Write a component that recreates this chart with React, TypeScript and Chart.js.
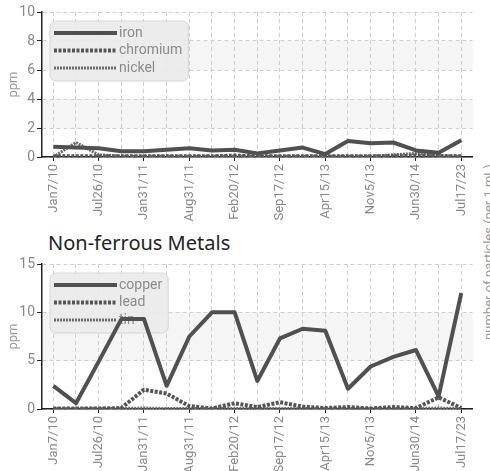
import React, { useEffect, useRef } from 'react';
import { Chart, registerables } from 'chart.js';

Chart.register(...registerables);

// ---- data ----
const sampleDates = ['Jan7/10', '', 'Jul26/10', '', 'Jan31/11', '', 'Aug31/11', '', 'Feb20/12', '', 'Sep17/12', '', 'Apr15/13', '', 'Nov5/13', '', 'Jun30/14', '', 'Jul17/23'];

const iron = [0.7, 0.65, 0.6, 0.4, 0.4, 0.5, 0.6, 0.45, 0.5, 0.25, 0.45, 0.65, 0.2, 1.1, 0.95, 1.0, 0.45, 0.3, 1.15];
const chromium = [0.05, 0.05, 0.05, 0.05, 0.05, 0.05, 0.05, 0.05, 0.1, 0.05, 0.05, 0.05, 0.05, 0.05, 0.05, 0.05, 0.1, 0.05, 0.05];
const nickel = [0.0, 1.0, 0.15, 0.05, 0.05, 0.05, 0.05, 0.05, 0.05, 0.05, 0.05, 0.05, 0.05, 0.05, 0.05, 0.15, 0.25, 0.1, 0.05];

const copper = [2.4, 0.6, 4.9, 9.3, 9.3, 2.4, 7.5, 10, 10, 2.9, 7.3, 8.3, 8.1, 2.1, 4.4, 5.4, 6.1, 1.3, 12];
const lead = [0.05, 0.05, 0.05, 0.1, 2.0, 1.6, 0.3, 0.05, 0.6, 0.2, 0.7, 0.25, 0.1, 0.2, 0.05, 0.2, 0.1, 1.2, 0.1];
const tin = [0.05, 0.05, 0.05, 0.05, 0.1, 0.05, 0.05, 0.05, 0.05, 0.05, 0.05, 0.05, 0.05, 0.05, 0.05, 0.05, 0.05, 0.1, 0.05];

const ferrousTicks = { max: 10, step: 2 };
const nonFerrousTicks = { max: 15, step: 5 };

const NARROW = 'Roboto, "Liberation Sans", sans-serif';

const bandsPlugin = {
  id: 'bands',
  beforeDraw(chart: any) {
    const { ctx, chartArea, scales } = chart;
    const y = scales.y;
    const ticks = y.ticks;
    ctx.save();
    ctx.fillStyle = '#f5f5f5';
    for (let i = 1; i < ticks.length - 1; i += 2) {
      const a = y.getPixelForValue(ticks[i].value);
      const b = y.getPixelForValue(ticks[i + 1].value);
      ctx.fillRect(chartArea.left, b, chartArea.right - chartArea.left, a - b);
    }
    ctx.restore();
  },
};

const legendPlugin = {
  id: 'insetLegend',
  beforeDatasetsDraw(chart: any) {
    const { ctx, chartArea } = chart;
    const ds = chart.data.datasets;
    const x0 = chartArea.left + 8;
    const y0 = chartArea.top + 9;
    ctx.save();
    ctx.font = '14px ' + NARROW;
    const textW = Math.max(...ds.map((d: any) => ctx.measureText(d.label).width));
    const sample = 63;
    const w = 4 + sample + 2 + textW + 6;
    const h = 60;
    const r = 6;
    ctx.beginPath();
    ctx.moveTo(x0 + r, y0);
    ctx.arcTo(x0 + w, y0, x0 + w, y0 + h, r);
    ctx.arcTo(x0 + w, y0 + h, x0, y0 + h, r);
    ctx.arcTo(x0, y0 + h, x0, y0, r);
    ctx.arcTo(x0, y0, x0 + w, y0, r);
    ctx.closePath();
    ctx.fillStyle = 'rgba(234,234,234,0.92)';
    ctx.fill();
    ctx.strokeStyle = '#d6d6d6';
    ctx.lineWidth = 1;
    ctx.stroke();
    ds.forEach((d: any, i: number) => {
      const yy = y0 + 12 + i * 17.5;
      ctx.beginPath();
      ctx.setLineDash(d.borderDash || []);
      ctx.lineWidth = d.borderWidth;
      ctx.strokeStyle = d.borderColor;
      ctx.moveTo(x0 + 4, yy);
      ctx.lineTo(x0 + 4 + sample, yy);
      ctx.stroke();
      ctx.setLineDash([]);
      ctx.fillStyle = '#8a8a8a';
      ctx.textBaseline = 'middle';
      ctx.textAlign = 'left';
      ctx.fillText(d.label, x0 + 4 + sample + 2, yy);
    });
    ctx.restore();
  },
};

type Series = { label: string; data: number[]; kind: 'solid' | 'dotted' | 'thin' };

function styleFor(kind: string) {
  if (kind === 'solid') return { borderColor: '#505050', borderWidth: 4, borderDash: [] as number[] };
  if (kind === 'dotted') return { borderColor: '#555555', borderWidth: 4, borderDash: [3, 1.5] };
  return { borderColor: '#6a6a6a', borderWidth: 3, borderDash: [2, 1] };
}

function MetalChart({ series, yMax, yStep, width, height, padTop, xAxisHeight }: {
  series: Series[]; yMax: number; yStep: number; width: number; height: number; padTop: number; xAxisHeight: number;
}) {
  const ref = useRef<HTMLCanvasElement>(null);
  useEffect(() => {
    if (!ref.current) return;
    const chart = new Chart(ref.current, {
      type: 'line',
      data: {
        labels: sampleDates,
        datasets: series.map((s) => ({
          label: s.label,
          data: s.data,
          ...styleFor(s.kind),
          pointRadius: 0,
          fill: false,
          tension: 0,
          borderJoinStyle: 'round' as const,
        })),
      },
      options: {
        animation: false,
        responsive: false,
        layout: { padding: { top: padTop, right: 4, left: 0, bottom: 0 } },
        plugins: { legend: { display: false }, tooltip: { enabled: false }, title: { display: false } },
        scales: {
          x: {
            offset: true,
            afterFit: (scale: any) => { scale.height = xAxisHeight; },
            grid: {
              offset: false,
              color: '#cfcfcf',
              lineWidth: 1,
              tickLength: 4,
              tickColor: (c: any) => (c.index % 2 === 0 ? '#222' : 'rgba(0,0,0,0)'),
              tickBorderDash: [],
            },
            border: { display: true, color: '#222', width: 1.5, dash: [4, 3] },
            ticks: {
              autoSkip: false,
              minRotation: 90,
              maxRotation: 90,
              padding: 3,
              color: '#888',
              font: { family: NARROW, size: 13 },
              callback: (_v: any, i: number) => sampleDates[i],
            },
          },
          y: {
            min: 0,
            max: yMax,
            afterFit: (scale: any) => { scale.width = 42; },
            grid: {
              color: '#cfcfcf',
              lineWidth: 1,
              tickLength: 5,
              tickColor: '#222',
              tickBorderDash: [],
            },
            border: { display: true, color: '#222', width: 1.5, dash: [4, 3] },
            ticks: {
              stepSize: yStep,
              padding: 2,
              color: '#888',
              font: { family: NARROW, size: 14 },
            },
            title: {
              display: true,
              text: 'ppm',
              color: '#999',
              font: { family: NARROW, size: 13 },
              padding: { top: 6, bottom: 2 },
            },
          },
        },
      },
      plugins: [bandsPlugin, legendPlugin],
    });
    return () => chart.destroy();
  }, []);
  return <canvas ref={ref} width={width} height={height} style={{ display: 'block', width, height }} />;
}

export default function App() {
  const ferrous: Series[] = [
    { label: 'iron', data: iron, kind: 'solid' },
    { label: 'chromium', data: chromium, kind: 'dotted' },
    { label: 'nickel', data: nickel, kind: 'thin' },
  ];
  const nonFerrous: Series[] = [
    { label: 'copper', data: copper, kind: 'solid' },
    { label: 'lead', data: lead, kind: 'dotted' },
    { label: 'tin', data: tin, kind: 'thin' },
  ];
  return (
    <div style={{ position: 'fixed', left: 0, top: 0, width: 490, height: 471, overflow: 'hidden', background: '#fff' }}>
      <div style={{ position: 'absolute', left: 0, top: 0 }}>
        <MetalChart series={ferrous} yMax={ferrousTicks.max} yStep={ferrousTicks.step} width={480} height={222} padTop={12} xAxisHeight={65} />
      </div>
      <div style={{ position: 'absolute', left: 48, top: 230, fontFamily: '"Noto Sans", "Open Sans", sans-serif', fontSize: 20, color: '#222', whiteSpace: 'nowrap', lineHeight: '26px' }}>
        Non-ferrous Metals
      </div>
      <div style={{ position: 'absolute', left: 0, top: 250 }}>
        <MetalChart series={nonFerrous} yMax={nonFerrousTicks.max} yStep={nonFerrousTicks.step} width={480} height={221} padTop={14} xAxisHeight={62} />
      </div>
      <div style={{ position: 'absolute', left: 489, top: 252, transform: 'translate(-50%, -50%) rotate(-90deg)', fontFamily: NARROW, fontSize: 13, lineHeight: '16px', color: '#999', whiteSpace: 'nowrap' }}>
        number of particles (per 1 mL)
      </div>
    </div>
  );
}
